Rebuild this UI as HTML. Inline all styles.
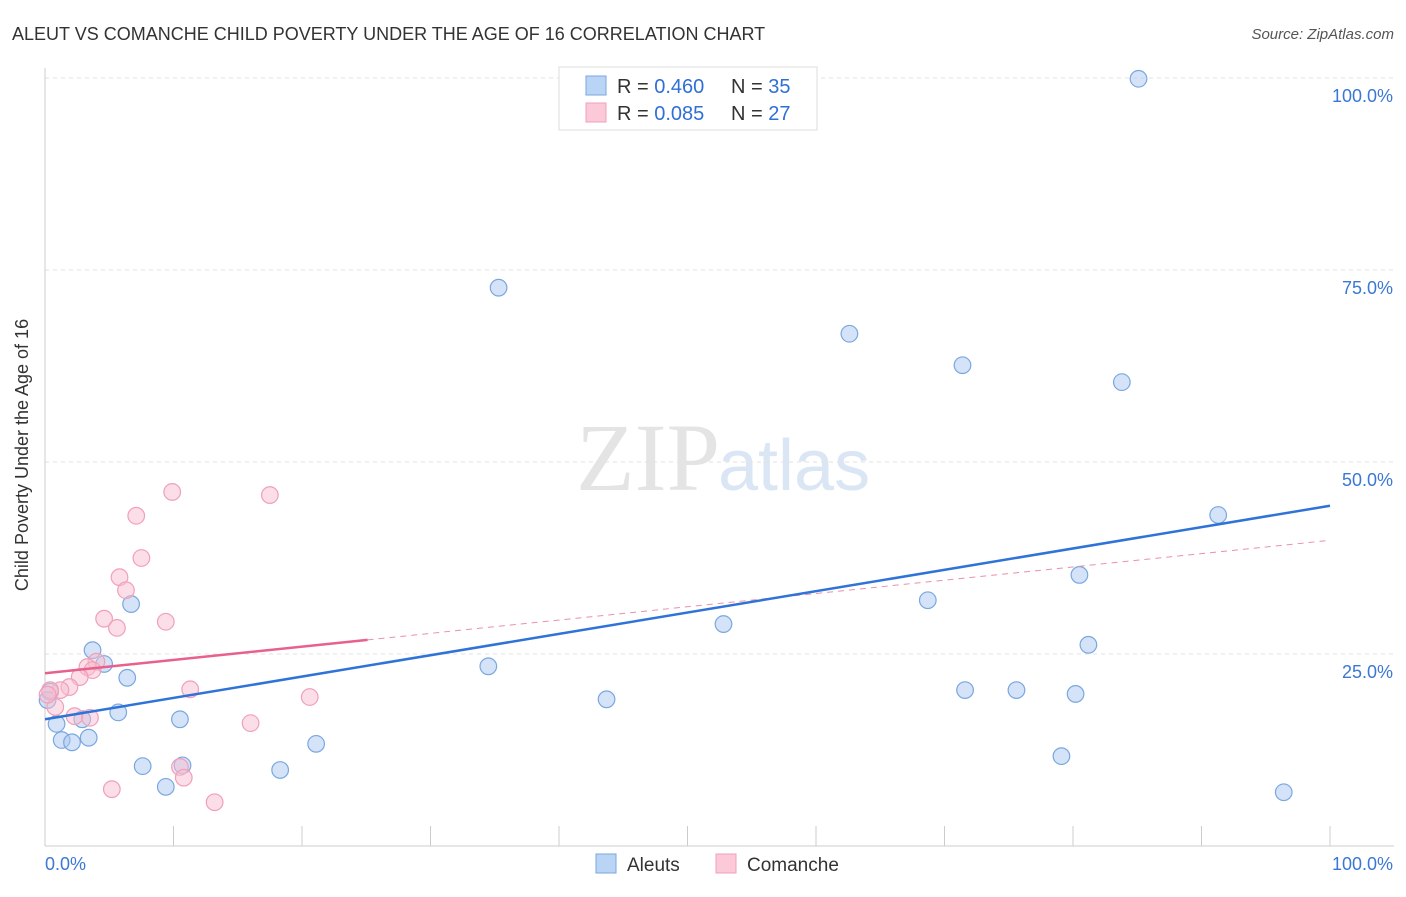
<!DOCTYPE html>
<html><head><meta charset="utf-8"><style>
body{margin:0;background:#fff;font-family:"Liberation Sans",sans-serif}
</style></head><body>
<svg width="1406" height="892" xmlns="http://www.w3.org/2000/svg" font-family="Liberation Sans, sans-serif">
<text x="12" y="40" font-size="18" fill="#333">ALEUT VS COMANCHE CHILD POVERTY UNDER THE AGE OF 16 CORRELATION CHART</text>
<text x="1394" y="39" font-size="15" fill="#555" text-anchor="end" font-style="italic">Source: ZipAtlas.com</text>
<text x="720" y="490" font-size="96" fill="#e4e4e4" text-anchor="end" font-family="Liberation Serif, serif">ZIP</text>
<text x="718" y="490" font-size="72" fill="#dbe6f5">atlas</text>
<g id="grid"></g>
<g id="axes"></g>
<g id="marks"></g>
<text x="28" y="455" font-size="18" fill="#333" text-anchor="middle" transform="rotate(-90 28 455)">Child Poverty Under the Age of 16</text>
<g>
<rect x="559" y="67" width="258" height="63" fill="#fff" stroke="#ddd"/>
<rect x="586" y="76" width="20" height="19" fill="#b9d4f5" stroke="#7aa7e0"/>
<rect x="586" y="103" width="20" height="19" fill="#fbc9d8" stroke="#f0a0b8"/>
<text x="617" y="93" font-size="20" fill="#333">R = <tspan fill="#2f6fd6">0.460</tspan></text>
<text x="731" y="93" font-size="20" fill="#333">N = <tspan fill="#2f6fd6">35</tspan></text>
<text x="617" y="120" font-size="20" fill="#333">R = <tspan fill="#2f6fd6">0.085</tspan></text>
<text x="731" y="120" font-size="20" fill="#333">N = <tspan fill="#2f6fd6">27</tspan></text>
</g>
<g>
<rect x="596" y="854" width="20" height="19" fill="#b9d4f5" stroke="#7aa7e0"/>
<text x="627" y="871" font-size="19" fill="#333">Aleuts</text>
<rect x="716" y="854" width="20" height="19" fill="#fbc9d8" stroke="#f0a0b8"/>
<text x="747" y="871" font-size="19" fill="#333">Comanche</text>
</g>
</svg>
<script>
const yTicks=[25,50,75,100];
const yTickLabels=["25.0%","50.0%","75.0%","100.0%"];
const xTicks=[0,10,20,30,40,50,60,70,80,90,100];
const aleutX=[85.1,35.3,62.6,71.4,83.8,91.3,80.5,68.7,52.8,81.2,34.5,43.7,71.6,75.6,80.2,79.1,96.4,6.7,3.7,4.6,6.4,5.7,10.5,2.9,0.9,1.3,2.1,3.4,7.6,10.7,9.4,18.3,21.1,0.4,0.2];
const aleutY=[99.9,72.7,66.7,62.6,60.4,43.1,35.3,32.0,28.9,26.2,23.4,19.1,20.3,20.3,19.8,11.7,7.0,31.5,25.5,23.7,21.9,17.4,16.5,16.5,15.9,13.8,13.5,14.1,10.4,10.5,7.7,9.9,13.3,20.1,19.0];
const comX=[9.9,17.5,7.1,7.5,5.8,6.3,4.6,5.6,9.4,4.0,3.3,3.7,2.7,1.9,1.2,11.3,20.6,0.4,0.8,2.3,3.5,16.0,10.5,10.8,5.2,13.2,0.2];
const comY=[46.1,45.7,43.0,37.5,35.0,33.3,29.6,28.4,29.2,24.0,23.3,22.9,22.0,20.7,20.3,20.4,19.4,20.3,18.1,16.9,16.7,16.0,10.3,8.9,7.4,5.7,19.7];
const aleutTrend=[16.5,44.3];
const comTrend=[22.5,39.8];
const comSolidEnd=25.1;
const X=v=>45+v*12.85, Y=v=>846-v*7.68;
const NS="http://www.w3.org/2000/svg";
function mk(t,a,p){const e=document.createElementNS(NS,t);for(const k in a)e.setAttribute(k,a[k]);p.appendChild(e);return e;}
const grid=document.getElementById('grid'),axes=document.getElementById('axes'),marks=document.getElementById('marks');
yTicks.forEach((t,i)=>{
 const l=mk('line',{x1:45,x2:1394,y1:Y(t),y2:Y(t),stroke:'#e2e2e2','stroke-dasharray':'4,4'},grid);
 
 
 const tx=mk('text',{x:1393,y:Y(t)+24,'font-size':18,fill:'#3a78d4','text-anchor':'end'},axes);
 tx.textContent=yTickLabels[i];
 
 
});
const ax=mk('line',{x1:45,x2:1394,y1:846,y2:846,stroke:'#ccc'},axes);


const ay=mk('line',{x1:45,x2:45,y1:68,y2:846,stroke:'#ccc'},axes);


xTicks.forEach(t=>{const l=mk('line',{x1:X(t),x2:X(t),y1:826,y2:846,stroke:'#ccc'},axes);
 
 });
const x0=mk('text',{x:45,y:870,'font-size':18,fill:'#3a78d4'},axes);x0.textContent='0.0%';


const x1=mk('text',{x:1393,y:870,'font-size':18,fill:'#3a78d4','text-anchor':'end'},axes);x1.textContent='100.0%';


aleutX.forEach((x,i)=>{const c=mk('circle',{cx:X(x),cy:Y(aleutY[i]),r:8.3,fill:'rgba(170,200,240,0.5)',stroke:'#7aa7e0','stroke-width':1.2},marks);
 
 });
comX.forEach((x,i)=>{const c=mk('circle',{cx:X(x),cy:Y(comY[i]),r:8.3,fill:'rgba(248,190,208,0.5)',stroke:'#f0a0b8','stroke-width':1.2},marks);
 
 });
const sy=comTrend[0]+(comTrend[1]-comTrend[0])*comSolidEnd/100;
const cd=mk('line',{x1:X(comSolidEnd),y1:Y(sy),x2:X(100),y2:Y(comTrend[1]),stroke:'#e890ac','stroke-dasharray':'6,5','stroke-width':1},marks);


const cs=mk('line',{x1:X(0),y1:Y(comTrend[0]),x2:X(comSolidEnd),y2:Y(sy),stroke:'#e8608c','stroke-width':2.5},marks);


const at=mk('line',{x1:X(0),y1:Y(aleutTrend[0]),x2:X(100),y2:Y(aleutTrend[1]),stroke:'#2f72d8','stroke-width':2.5},marks);


</script>
</body></html>
